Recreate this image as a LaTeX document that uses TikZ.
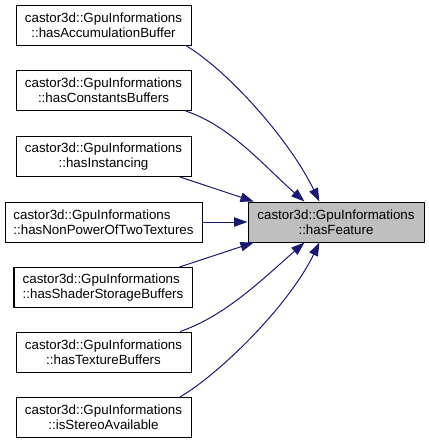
\documentclass[tikz,border=0pt]{standalone}
\usepackage{fontspec}
\setmainfont{Liberation Sans}
\usetikzlibrary{arrows.meta}
\definecolor{edgeblue}{HTML}{191970}
\definecolor{focusgrey}{HTML}{BFBFBF}
\tikzset{fnbox/.style={draw=black, fill=white, line width=0.75pt,
    minimum width=131.25pt, minimum height=30pt, inner sep=0pt,
    align=center, font=\fontsize{10}{11}\selectfont},
  focusbox/.style={fnbox, fill=focusgrey, minimum width=132pt},
  calledge/.style={draw=edgeblue, line width=0.75pt,
    -{Triangle[length=10pt,width=7pt]}}}

\begin{document}
\begin{tikzpicture}[x=0.75pt, y=-0.75pt]
  \useasboundingbox (0,0) rectangle (429,444);
  % callers
  \node[fnbox] (accum) at (103.5,25) {castor3d::GpuInformations\\::hasAccumulationBuffer};
  \node[fnbox] (consts) at (103.5,90.5) {castor3d::GpuInformations\\::hasConstantsBuffers};
  \node[fnbox] (inst) at (103.5,156.5) {castor3d::GpuInformations\\::hasInstancing};
  \node[fnbox, align=left, minimum width=147.75pt] (npot) at (103.5,222) {castor3d::GpuInformations\\::hasNonPowerOfTwoTextures};
  \node[fnbox, align=left, minimum width=133.5pt] (ssbo) at (103,287.5) {castor3d::GpuInformations\\::hasShaderStorageBuffers};
  \node[fnbox] (tbo) at (103.5,352) {castor3d::GpuInformations\\::hasTextureBuffers};
  \node[fnbox] (stereo) at (103.5,417.5) {castor3d::GpuInformations\\::isStereoAvailable};
  % callee
  \node[focusbox] (feat) at (336,222) {castor3d::GpuInformations\\::hasFeature};
  % calls
  \draw[calledge] (accum.-14) .. controls +(42,25) and +(-30,-62) .. (feat.129);
  \draw[calledge] (consts.-14) .. controls +(45,15) and +(-40,-35) .. (feat.147);
  \draw[calledge] (inst.-15) -- (feat.166);
  \draw[calledge] (npot.east) -- (feat.west);
  \draw[calledge] (ssbo.15) -- (feat.194);
  \draw[calledge] (tbo.15) .. controls +(45,-15) and +(-40,35) .. (feat.213);
  \draw[calledge] (stereo.15) .. controls +(42,-25) and +(-30,62) .. (feat.231);
\end{tikzpicture}
\end{document}
